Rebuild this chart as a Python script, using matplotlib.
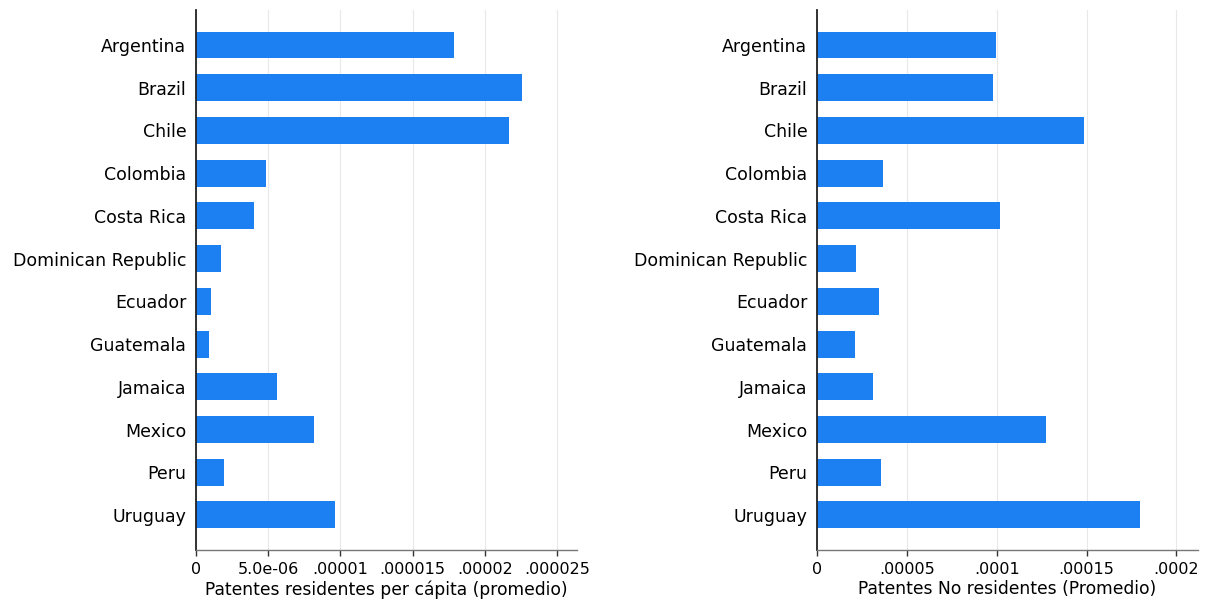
import matplotlib

matplotlib.use("Agg")
import matplotlib.pyplot as plt  # noqa: E402
import numpy as np  # noqa: E402

plt.rcParams["font.family"] = ["DejaVu Sans"]

countries = [
    "Argentina", "Brazil", "Chile", "Colombia", "Costa Rica",
    "Dominican Republic", "Ecuador", "Guatemala", "Jamaica",
    "Mexico", "Peru", "Uruguay",
]
# residents per capita (average)
residentes = [
    1.79e-05, 2.26e-05, 2.17e-05, 4.84e-06, 4.03e-06,
    1.76e-06, 1.02e-06, 0.92e-06, 5.63e-06,
    8.17e-06, 1.97e-06, 9.65e-06,
]
# non-residents (average)
no_residentes = [
    9.96e-05, 9.77e-05, 1.487e-04, 3.65e-05, 1.018e-04,
    2.17e-05, 3.45e-05, 2.11e-05, 3.10e-05,
    1.274e-04, 3.58e-05, 1.796e-04,
]

left_ticks = [0, 5e-06, 1e-05, 1.5e-05, 2e-05, 2.5e-05]
left_ticklabels = ["0", "5.0e-06", ".00001", ".000015", ".00002", ".000025"]
right_ticks = [0, 5e-05, 1e-04, 1.5e-04, 2e-04]
right_ticklabels = ["0", ".00005", ".0001", ".00015", ".0002"]

BAR_COLOR = "#1c80f2"


def draw_panel(ax, values, ticks, ticklabels, xmax, xlabel):
    ys = np.arange(len(countries))
    ax.barh(ys, values, height=0.63, color=BAR_COLOR, zorder=2)
    ax.set_yticks(ys)
    ax.set_yticklabels(countries, fontsize=12.5)
    ax.tick_params(axis="y", length=0, pad=7)
    ax.set_ylim(len(countries) - 1 + 0.82, -0.82)
    ax.set_xlim(0, xmax)
    ax.set_xticks(ticks)
    ax.set_xticklabels(ticklabels, fontsize=11.5)
    ax.tick_params(axis="x", length=4, width=1, color="#333333", pad=5)
    ax.set_xlabel(xlabel, fontsize=12.3, labelpad=2)
    ax.grid(axis="x", color="#e8e8e8", linewidth=0.8, zorder=0)
    ax.set_axisbelow(True)
    for side in ("top", "right"):
        ax.spines[side].set_visible(False)
    ax.spines["left"].set_color("#222222")
    ax.spines["left"].set_linewidth(1.3)
    ax.spines["bottom"].set_color("#777777")
    ax.spines["bottom"].set_linewidth(1.0)


fig = plt.figure(figsize=(12.07, 6.02), dpi=100)
ax1 = fig.add_axes([0.1624, 0.0864, 0.3157, 0.897])
ax2 = fig.add_axes([0.6769, 0.0864, 0.3157, 0.897])

draw_panel(ax1, residentes, left_ticks, left_ticklabels, 2.64e-05,
           "Patentes residentes per cápita (promedio)")
draw_panel(ax2, no_residentes, right_ticks, right_ticklabels, 2.12e-04,
           "Patentes No residentes (Promedio)")

fig.savefig("out.png", dpi=100, facecolor="white")
